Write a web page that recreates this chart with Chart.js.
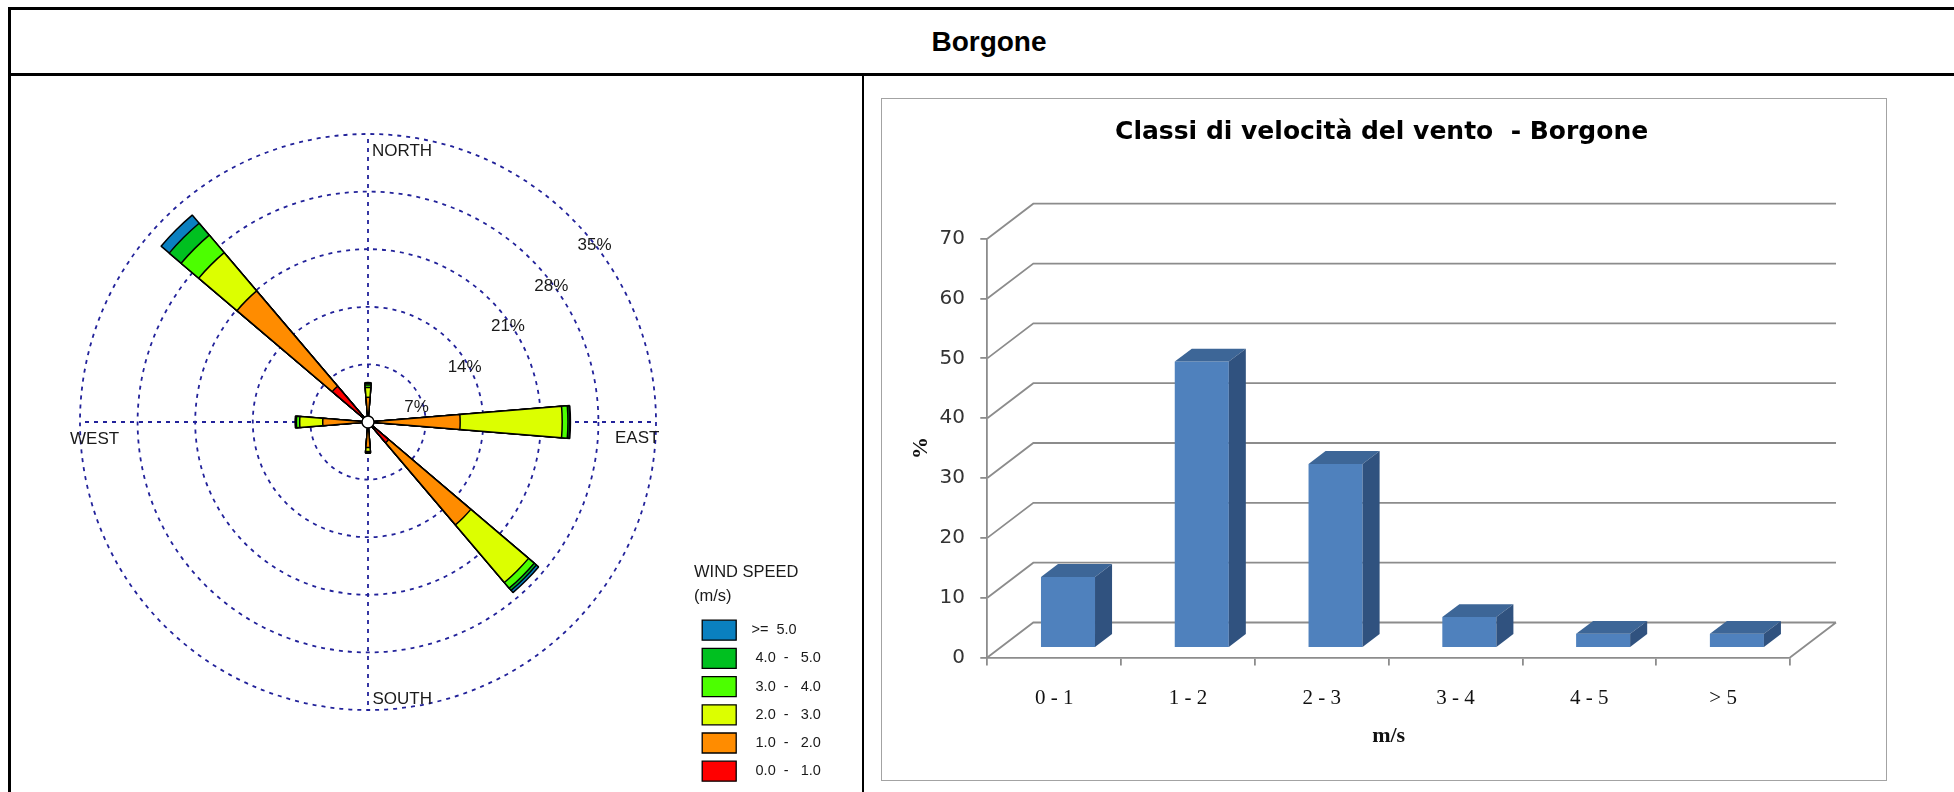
<!DOCTYPE html>
<html lang="it">
<head>
<meta charset="utf-8">
<title>Borgone</title>
<script src="https://cdn.jsdelivr.net/npm/chart.js@4.4.1/dist/chart.umd.min.js"></script>
<style>
  html, body { margin: 0; padding: 0; background: #fff; }
  body { position: relative; width: 1954px; height: 792px; overflow: hidden; font-family: "Liberation Sans", Arial, sans-serif; }
  .rule { position: absolute; background: #000; }
  #station { position: absolute; left: 0; width: 1978px; top: 28px; line-height: 28px; font-size: 28px; font-weight: bold; text-align: center; color: #000; }
  canvas { position: absolute; }
  #rose { left: 10px; top: 77px; }
  #roseKey { left: 694px; top: 554px; }
  #barFrame { position: absolute; left: 881px; top: 98px; width: 1006px; height: 683px; border: 1.5px solid #a3a3a3; box-sizing: border-box; }
  #bars { left: 883px; top: 97px; }
</style>
</head>
<body>
<div class="rule" style="left:8px;top:7px;width:1946px;height:3px"></div>
<div class="rule" style="left:8px;top:7px;width:3px;height:785px"></div>
<div id="station">Borgone</div>
<div class="rule" style="left:8px;top:73px;width:1946px;height:3px"></div>
<div class="rule" style="left:862px;top:75px;width:2px;height:717px"></div>
<canvas id="rose" width="852" height="715"></canvas>
<canvas id="roseKey" width="360" height="240"></canvas>
<div id="barFrame"></div>
<canvas id="bars" width="1002" height="678"></canvas>
<script>
// ---------- wind rose data ----------
// 16-point compass, clockwise from north
const DIRECTIONS = ['N', 'NNE', 'NE', 'ENE', 'E', 'ESE', 'SE', 'SSE', 'S', 'SSW', 'SW', 'WSW', 'W', 'WNW', 'NW', 'NNW'];
// frequency (% of hours) per direction, one array per wind-speed class
const FREQ_0_1  = [0.6, 0, 0, 0, 0.6, 0, 3.3, 0, 0.6, 0, 0, 0, 0.6, 0, 5.7, 0];
const FREQ_1_2  = [2.4, 0, 0, 0, 10.6, 0, 13.1, 0, 2.5, 0, 0, 0, 4.9, 0, 15.2, 0];
const FREQ_2_3  = [1.2, 0, 0, 0, 12.4, 0, 9.2, 0, 0.5, 0, 0, 0, 2.8, 0, 6.1, 0];
const FREQ_3_4  = [0.3, 0, 0, 0, 0.7, 0, 0.9, 0, 0.1, 0, 0, 0, 0.4, 0, 2.8, 0];
const FREQ_4_5  = [0.2, 0, 0, 0, 0.2, 0, 0.35, 0, 0.05, 0, 0, 0, 0.1, 0, 1.9, 0];
const FREQ_5_UP = [0.1, 0, 0, 0, 0.1, 0, 0.35, 0, 0.05, 0, 0, 0, 0.05, 0, 1.3, 0];
const CLASS_LABELS = ['   0.0  -   1.0', '   1.0  -   2.0', '   2.0  -   3.0', '   3.0  -   4.0', '   4.0  -   5.0', '  >=  5.0'];
const CLASS_COLORS = ['#ff0000', '#ff8c00', '#dcff00', '#4cff00', '#00c020', '#0a80c0'];
const RING_STEP = 7;
const RING_MAX = 35;
const COMPASS = ['NORTH', 'EAST', 'SOUTH', 'WEST'];

// ---------- speed class histogram data ----------
const SPEED_CLASSES = ['0 - 1', '1 - 2', '2 - 3', '3 - 4', '4 - 5', '> 5'];
const FREQUENCY = [11.7, 47.7, 30.6, 5.0, 2.2, 2.2];
const Y_MAX = 70;
const Y_STEP = 10;

const SANS = '"Liberation Sans", Arial, sans-serif';
const SERIF = '"Liberation Serif", "Times New Roman", serif';
const RING_COLOR = '#22229a';

// ---------- wind rose ----------
const SECTOR = 360 / DIRECTIONS.length;
const PETAL = 9.3;            // angular width of a petal, degrees
const CLASSES = [FREQ_0_1, FREQ_1_2, FREQ_2_3, FREQ_3_4, FREQ_4_5, FREQ_5_UP];

// each layer reaches the cumulative frequency of the classes up to it;
// the slowest class is dataset 0 so it is painted last, on top
const running = DIRECTIONS.map(() => 0);
const roseDatasets = CLASSES.map((cls, k) => {
  const data = [0];           // leading spacer that brings the first petal round to north
  DIRECTIONS.forEach((d, i) => {
    running[i] += cls[i];
    data.push(+running[i].toFixed(3), 0);
  });
  return {
    label: CLASS_LABELS[k],
    data,
    backgroundColor: CLASS_COLORS[k],
    borderColor: '#000',
    borderWidth: c => (c.dataIndex % 2 === 1 ? 1.5 : 0),
    angle: c => (c.dataIndex === 0 ? 360 - PETAL / 2 : (c.dataIndex % 2 === 1 ? PETAL : SECTOR - PETAL))
  };
});

const roseDecor = {
  id: 'roseDecor',
  afterDatasetsDraw(chart) {
    const r = chart.scales.r;
    const ctx = chart.ctx;
    ctx.save();
    ctx.beginPath();
    ctx.arc(r.xCenter, r.yCenter, 6, 0, Math.PI * 2);
    ctx.fillStyle = '#fff';
    ctx.fill();
    ctx.lineWidth = 1.4;
    ctx.strokeStyle = '#000';
    ctx.stroke();
    ctx.restore();
  },
  afterDraw(chart) {
    const r = chart.scales.r;
    const ctx = chart.ctx;
    const cx = r.xCenter, cy = r.yCenter, R = r.drawingArea;
    ctx.save();
    ctx.font = '17px ' + SANS;
    ctx.fillStyle = '#1a1a1a';
    ctx.textAlign = 'left';
    ctx.textBaseline = 'alphabetic';
    // ring values, stepping out towards the north-east
    r.ticks.forEach(t => {
      if (t.value <= 0) return;
      const d = r.getDistanceFromCenterForValue(t.value);
      ctx.fillText(t.value + '%', cx + 0.752 * d - 7, cy - 0.703 * d + 30.7);
    });
    // compass names
    ctx.fillText(COMPASS[0], cx + 4, cy - R + 22);
    ctx.fillText(COMPASS[1], cx + 247, cy + 21);
    ctx.fillText(COMPASS[2], cx + 4.5, cy + R - 6.5);
    ctx.fillText(COMPASS[3], cx - 298, cy + 22);
    ctx.restore();
  }
};

new Chart(document.getElementById('rose'), {
  type: 'polarArea',
  data: { datasets: roseDatasets },
  options: {
    responsive: false,
    animation: false,
    events: [],
    layout: { padding: { left: 70, right: 206, top: 57, bottom: 82 } },
    plugins: { legend: { display: false }, tooltip: { enabled: false } },
    scales: {
      r: {
        min: 0,
        max: RING_MAX,
        startAngle: 0,
        labels: COMPASS,
        ticks: { display: false, stepSize: RING_STEP },
        grid: { circular: true, color: RING_COLOR, lineWidth: 1.8 },
        border: { dash: [4, 5] },
        angleLines: { display: true, color: RING_COLOR, lineWidth: 1.8, borderDash: [4, 5] },
        pointLabels: { display: false }
      }
    }
  },
  plugins: [roseDecor]
});

// key for the rose: one entry per speed class, fastest first
new Chart(document.getElementById('roseKey'), {
  type: 'bar',
  data: {
    labels: [],
    datasets: CLASS_LABELS.map((label, k) => ({
      label,
      data: [],
      backgroundColor: CLASS_COLORS[k],
      borderColor: '#000',
      borderWidth: 1.3
    })).reverse()
  },
  options: {
    responsive: false,
    animation: false,
    events: [],
    layout: { padding: { left: 0, top: 10 } },
    scales: { x: { display: false }, y: { display: false } },
    plugins: {
      tooltip: { enabled: false },
      legend: {
        position: 'left',
        align: 'start',
        labels: { boxWidth: 34, boxHeight: 20, padding: 8.2, color: '#1a1a1a', font: { family: SANS, size: 14.5 } },
        title: {
          display: true,
          position: 'start',
          text: ['WIND SPEED', '(m/s)'],
          color: '#1a1a1a',
          font: { family: SANS, size: 16.5, lineHeight: 1.4545 },
          // room for the second title line
          padding: { top: 0, bottom: 24 }
        }
      }
    }
  }
});

// ---------- 3-D style column chart ----------
const GRID = '#8c8c8c';
const FRONT_COLOR = '#4f81bd';
const TOP_COLOR = '#3d6697';
const SIDE_COLOR = '#30527f';
const DEPTH_CATS = 0.344;     // plot depth as a fraction of a category width
const DEPTH_UNITS = 5.85;     // plot depth in value units
const BAR_FRONT = 0.30;       // bars occupy this slice of the depth
const BAR_BACK = 0.67;

const box3d = {
  id: 'box3d',
  depth(chart) {
    const { x, y } = chart.scales;
    return {
      dx: DEPTH_CATS * (x.getPixelForValue(1) - x.getPixelForValue(0)),
      dy: y.getPixelForValue(DEPTH_UNITS) - y.getPixelForValue(0)
    };
  },
  beforeDatasetsDraw(chart) {
    const { ctx, chartArea: a, scales: { y } } = chart;
    const { dx, dy } = this.depth(chart);
    ctx.save();
    ctx.strokeStyle = GRID;
    ctx.lineWidth = 1.8;
    ctx.beginPath();
    y.ticks.forEach(t => {
      const p = y.getPixelForValue(t.value);
      ctx.moveTo(a.left, p);
      ctx.lineTo(a.left + dx, p + dy);
      ctx.lineTo(a.right + dx, p + dy);
    });
    ctx.moveTo(a.right, a.bottom);
    ctx.lineTo(a.right + dx, a.bottom + dy);
    ctx.stroke();
    ctx.restore();
  },
  afterDatasetsDraw(chart) {
    const ctx = chart.ctx;
    const { dx, dy } = this.depth(chart);
    const ddx = (BAR_BACK - BAR_FRONT) * dx;
    const ddy = (BAR_BACK - BAR_FRONT) * dy;
    ctx.save();
    chart.getDatasetMeta(0).data.forEach(bar => {
      const { x, y: top, base, width } = bar.getProps(['x', 'y', 'base', 'width'], true);
      const l = x - width / 2, r = x + width / 2;
      ctx.fillStyle = TOP_COLOR;
      ctx.beginPath();
      ctx.moveTo(l, top); ctx.lineTo(r, top); ctx.lineTo(r + ddx, top + ddy); ctx.lineTo(l + ddx, top + ddy);
      ctx.closePath(); ctx.fill();
      ctx.fillStyle = SIDE_COLOR;
      ctx.beginPath();
      ctx.moveTo(r, top); ctx.lineTo(r + ddx, top + ddy); ctx.lineTo(r + ddx, base + ddy); ctx.lineTo(r, base);
      ctx.closePath(); ctx.fill();
    });
    ctx.restore();
  }
};

const planeX = DEPTH_CATS * BAR_FRONT;
const planeY = DEPTH_UNITS * BAR_FRONT;

new Chart(document.getElementById('bars'), {
  type: 'bar',
  data: {
    datasets: [{
      label: '%',
      data: FREQUENCY.map((v, i) => ({ x: i, y: v })),
      xAxisID: 'xb',
      yAxisID: 'yb',
      backgroundColor: FRONT_COLOR,
      borderWidth: 0,
      categoryPercentage: 1,
      barPercentage: 0.404
    }]
  },
  options: {
    responsive: false,
    animation: false,
    events: [],
    layout: { padding: { left: 10, right: 14.8, top: 0, bottom: 25.8 } },
    plugins: {
      legend: { display: false },
      tooltip: { enabled: false },
      title: {
        display: true,
        text: 'Classi di velocità del vento  - Borgone',
        color: '#000',
        font: { family: '"DejaVu Sans", Verdana, sans-serif', size: 25, weight: 'bold', lineHeight: 1.2 },
        padding: { top: 20.5, bottom: 91.2 }
      }
    },
    scales: {
      x: {
        type: 'category',
        labels: SPEED_CLASSES,
        position: 'bottom',
        offset: true,
        grid: { offset: true, drawOnChartArea: false, tickLength: 8, color: GRID, lineWidth: 1.8 },
        border: { display: true, color: GRID, width: 1.8 },
        ticks: { color: '#111', font: { family: SERIF, size: 21 }, padding: 20.5, maxRotation: 0, autoSkip: false },
        title: { display: true, text: 'm/s', color: '#111', font: { family: SERIF, size: 22, weight: 'bold', lineHeight: 1.2 }, padding: { top: 11.6, bottom: 0 } },
        afterFit: s => { s.height = 91.7; }
      },
      y: {
        type: 'linear',
        position: 'left',
        min: 0,
        max: Y_MAX,
        ticks: { stepSize: Y_STEP, color: '#333', font: { family: '"DejaVu Sans", Verdana, sans-serif', size: 20 }, padding: 15.3 },
        grid: { drawOnChartArea: false, tickLength: 7, color: GRID, lineWidth: 1.8 },
        border: { display: true, color: GRID, width: 1.8 },
        title: { display: true, text: '%', color: '#111', font: { family: SERIF, size: 22, weight: 'bold', lineHeight: 1.2 }, padding: { top: 14.8, bottom: 5.3 } },
        afterFit: s => { s.width = 94.3; }
      },
      // the bars stand part-way into the plot depth, so they use a shifted pair of axes
      xb: {
        type: 'linear',
        axis: 'x',
        display: false,
        offset: false,
        grid: { offset: false },
        min: -0.5 - planeX,
        max: SPEED_CLASSES.length - 0.5 - planeX,
        ticks: { stepSize: 1, includeBounds: false }
      },
      yb: {
        type: 'linear',
        axis: 'y',
        position: 'right',
        display: true,
        min: -planeY,
        max: Y_MAX - planeY,
        ticks: { display: false },
        grid: { display: false },
        border: { display: false },
        afterFit: s => { s.width = 80.2; }
      }
    }
  },
  plugins: [box3d]
});
</script>
</body>
</html>
